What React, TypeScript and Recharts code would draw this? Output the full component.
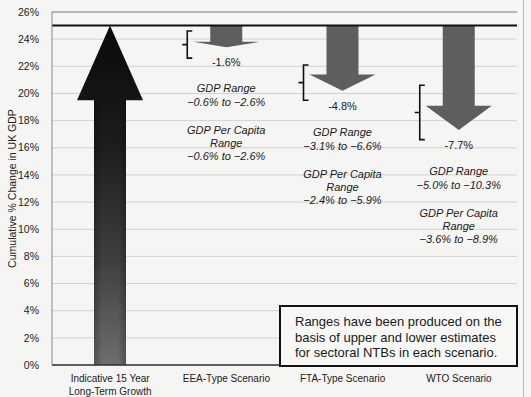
import React from 'react';
import { BarChart, Bar, XAxis, YAxis, CartesianGrid, ReferenceLine, LabelList } from 'recharts';

const categories = ['Indicative 15 Year\nLong-Term Growth', 'EEA-Type Scenario', 'FTA-Type Scenario', 'WTO Scenario'];
const baseline = 25;
// first entry is the growth itself (from 0), the others are the change from baseline
const changes = [25, -1.6, -4.8, -7.7];
const headBase = [19.5, 23.8, 21.4, 19.1];
const bracketTop = [0, 24.6, 22.1, 20.6];
const bracketBottom = [0, 22.6, 19.5, 16.6];
const changeLabels = ['', '-1.6%', '-4.8%', '-7.7%'];
const gdpRanges = ['', '\u22120.6% to \u22122.6%', '\u22123.1% to \u22126.6%', '\u22125.0% to \u221210.3%'];
const perCapitaRanges = ['', '\u22120.6% to \u22122.6%', '\u22122.4% to \u22125.9%', '\u22123.6% to \u22128.9%'];
const yTicks = [0, 2, 4, 6, 8, 10, 12, 14, 16, 18, 20, 22, 24, 26];

const data = categories.map((name, i) => ({
  name,
  range: i === 0 ? [0, changes[0]] : [baseline + changes[i], baseline],
}));

const FONT = '"Liberation Sans", Arial, sans-serif';

const ArrowShape = (props: any) => {
  const { x, width, index } = props;
  const top = Math.min(props.y, props.y + props.height);
  const h = Math.abs(props.height);
  const cx = x + width / 2;
  const headW = 66;
  if (index === 0) {
    const per = h / changes[0];
    const hb = top + (changes[0] - headBase[0]) * per;
    const pts = [
      [cx, top], [cx + headW / 2, hb], [x + width, hb], [x + width, top + h],
      [x, top + h], [x, hb], [cx - headW / 2, hb],
    ];
    return (
      <g>
        <polygon points={pts.map((p) => p.join(',')).join(' ')} fill="url(#growthGrad)" />
        <rect x={x} y={hb} width={width} height={top + h - hb} fill="url(#edgeGrad)" />
      </g>
    );
  }
  const tipVal = baseline + changes[index];
  const per = h / (baseline - tipVal);
  const hb = top + (baseline - headBase[index]) * per;
  const pts = [
    [x, top], [x + width, top], [x + width, hb], [cx + headW / 2, hb],
    [cx, top + h], [cx - headW / 2, hb], [x, hb],
  ];
  const bx = cx - 39;
  const b1 = top + (baseline - bracketTop[index]) * per;
  const b2 = top + (baseline - bracketBottom[index]) * per;
  const bm = (b1 + b2) / 2;
  return (
    <g>
      <polygon points={pts.map((p) => p.join(',')).join(' ')} fill="#5e5e5e" />
      <path d={`M${bx + 5},${b1} H${bx} V${b2} H${bx + 5} M${bx},${bm} H${bx - 5}`} stroke="#111" strokeWidth={1.6} fill="none" />
    </g>
  );
};

const AnnotationLabel = (props: any) => {
  const { x, width, index } = props;
  if (index === 0) return null;
  const tipY = Math.max(props.y, props.y + props.height);
  const cx = x + width / 2;
  const base = tipY + 19;
  const common = { x: cx, textAnchor: 'middle' as const, fontFamily: FONT, fontSize: 11, fill: '#1a1a1a' };
  return (
    <g>
      <text {...common} y={base}>{changeLabels[index]}</text>
      <text {...common} y={base + 26} fontStyle="italic">GDP Range</text>
      <text {...common} y={base + 40} fontStyle="italic">{gdpRanges[index]}</text>
      <text {...common} y={base + 68} fontStyle="italic">GDP Per Capita</text>
      <text {...common} y={base + 81} fontStyle="italic">Range</text>
      <text {...common} y={base + 94} fontStyle="italic">{perCapitaRanges[index]}</text>
    </g>
  );
};

const CategoryTick = (props: any) => {
  const { x, y, payload } = props;
  const lines = String(payload.value).split('\n');
  return (
    <g>
      {lines.map((l, i) => (
        <text key={i} x={x} y={y + 9 + i * 12.5} textAnchor="middle" fontFamily={FONT} fontSize={10} fill="#222">
          {l}
        </text>
      ))}
    </g>
  );
};

const App: React.FC = () => {
  return (
    <div style={{ position: 'fixed', left: 0, top: 0, width: 531, height: 397, background: '#f5f5f3' }}>
      <BarChart width={531} height={397} data={data} margin={{ top: 12, right: 14, left: 0, bottom: 2 }} barCategoryGap={0}>
        <defs>
          <linearGradient id="growthGrad" x1="0" y1="0" x2="0" y2="1">
            <stop offset="0%" stopColor="#0a0a0a" />
            <stop offset="35%" stopColor="#1c1c1c" />
            <stop offset="70%" stopColor="#404040" />
            <stop offset="100%" stopColor="#6e6e6e" />
          </linearGradient>
          <linearGradient id="edgeGrad" x1="0" y1="0" x2="1" y2="0">
            <stop offset="0%" stopColor="#000" stopOpacity={0.25} />
            <stop offset="25%" stopColor="#000" stopOpacity={0} />
            <stop offset="75%" stopColor="#000" stopOpacity={0} />
            <stop offset="100%" stopColor="#000" stopOpacity={0.25} />
          </linearGradient>
        </defs>
        <CartesianGrid vertical={false} stroke="#d2d2d2" />
        <XAxis
          dataKey="name"
          height={30}
          tick={<CategoryTick />}
          tickLine={false}
          axisLine={{ stroke: '#333', strokeWidth: 1.5 }}
          interval={0}
        />
        <YAxis
          width={52}
          domain={[0, 26]}
          ticks={yTicks}
          tickFormatter={(v: number) => `${v}%`}
          tick={{ fontFamily: FONT, fontSize: 10.5, fill: '#222' }}
          tickLine={false}
          tickMargin={7}
          axisLine={{ stroke: '#888' }}
          label={{
            content: (p: any) => {
              const vb = p.viewBox || { y: 12, height: 353 };
              const cy = vb.y + vb.height / 2;
              return (
                <text x={12} y={cy} transform={`rotate(-90 12 ${cy})`} textAnchor="middle" dominantBaseline="central" fontFamily={FONT} fontSize={10.5} fill="#222">
                  Cumulative % Change in UK GDP
                </text>
              );
            },
          }}
        />
        <ReferenceLine y={26} stroke="#888" />
        <Bar dataKey="range" barSize={32} shape={<ArrowShape />} isAnimationActive={false}>
          <LabelList dataKey="range" content={<AnnotationLabel />} />
        </Bar>
        <ReferenceLine y={baseline} stroke="#111" strokeWidth={2} />
      </BarChart>
      <div
        style={{
          position: 'absolute',
          left: 279,
          top: 305,
          width: 239,
          height: 62,
          border: '2px solid #111',
          background: '#f7f7f5',
          fontFamily: FONT,
          fontSize: 13,
          lineHeight: '15.5px',
          color: '#1a1a1a',
          paddingLeft: 14,
          paddingTop: 7,
          boxSizing: 'border-box',
        }}
      >
        Ranges have been produced on the
        <br />
        basis of upper and lower estimates
        <br />
        for sectoral NTBs in each scenario.
      </div>
      <div style={{ position: 'absolute', left: 523, top: 0, width: 1, height: 397, background: '#bbb' }} />
    </div>
  );
};

export default App;
